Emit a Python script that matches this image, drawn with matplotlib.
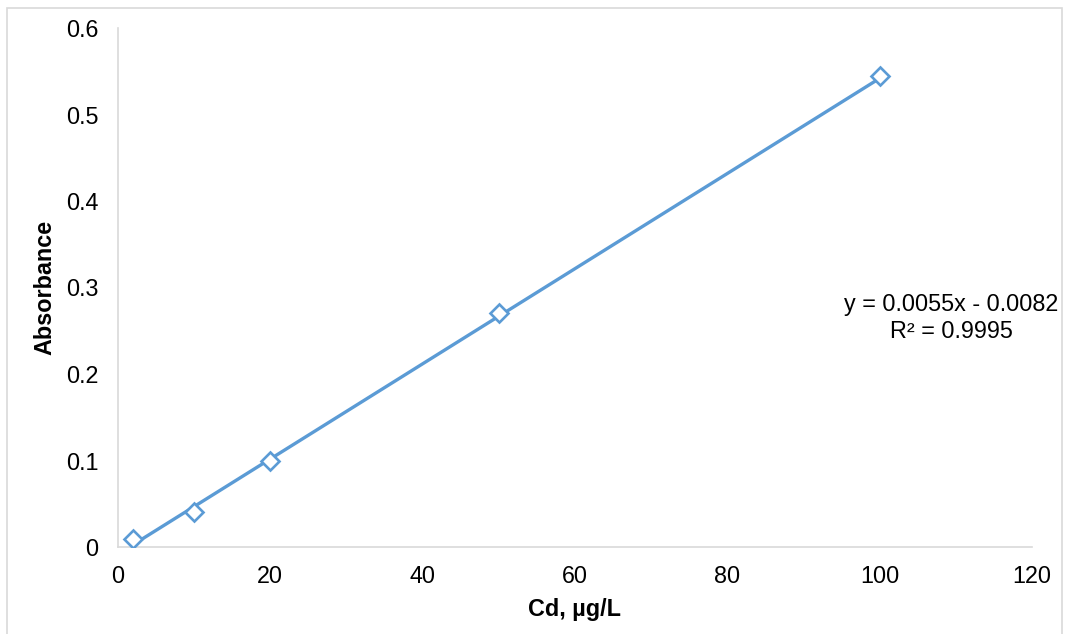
"""
Calibration curve for Cd (absorbance vs concentration) with linear trendline.
"""
import numpy as np
import matplotlib.pyplot as plt
from matplotlib.patches import Rectangle

conc = [2, 10, 20, 50, 100]
absorbance = [0.009, 0.041, 0.099, 0.270, 0.544]
slope = 0.0055
intercept = -0.0082
eq_text = "y = 0.0055x - 0.0082\nR² = 0.9995"
x_ticks = [0, 20, 40, 60, 80, 100, 120]
y_ticks = [0, 0.1, 0.2, 0.3, 0.4, 0.5, 0.6]

blue = '#5b9bd5'
grey = '#d9d9d9'
fs = 16.8

plt.rcParams['font.family'] = ['Liberation Sans', 'DejaVu Sans']

fig = plt.figure(figsize=(10.65, 6.34), dpi=100)
ax = fig.add_axes([118/1065, 1-547/634, (1032-118)/1065, (547-28)/634])

# outer chart border
fig.patches.append(Rectangle((7/1065, -0.05), 1055/1065, 1.05-8/634,
                             transform=fig.transFigure, fill=False,
                             edgecolor=grey, linewidth=1.2))

x = np.array(conc)
fit_x = np.array([min(conc), max(conc)])
ax.plot(fit_x, slope*fit_x + intercept, color=blue, lw=2.4, zorder=2)
ax.plot(x, absorbance, ls='none', marker='D', markersize=9,
        markerfacecolor='white', markeredgecolor=blue, markeredgewidth=1.9, zorder=3)

ax.set_xlim(0, 120)
ax.set_ylim(0, 0.6)
ax.set_xticks(x_ticks)
ax.set_yticks(y_ticks)
ax.set_xticklabels([str(t) for t in x_ticks])
ax.set_yticklabels(['0'] + [str(t) for t in y_ticks[1:]])
ax.tick_params(length=0, labelsize=fs, colors='black')
ax.tick_params(axis='y', pad=14)
ax.tick_params(axis='x', pad=13)

for s in ['top', 'right']:
    ax.spines[s].set_visible(False)
for s in ['left', 'bottom']:
    ax.spines[s].set_color(grey)
    ax.spines[s].set_linewidth(1.2)

ax.set_xlabel('Cd, µg/L', fontsize=fs, fontweight='bold', labelpad=7)
ax.set_ylabel('Absorbance', fontsize=fs, fontweight='bold', labelpad=7)

ax.text(951/1065, 1-318/634, eq_text, transform=fig.transFigure,
        ha='center', va='center', fontsize=fs, linespacing=1.25)

fig.savefig('out.png', dpi=100)
